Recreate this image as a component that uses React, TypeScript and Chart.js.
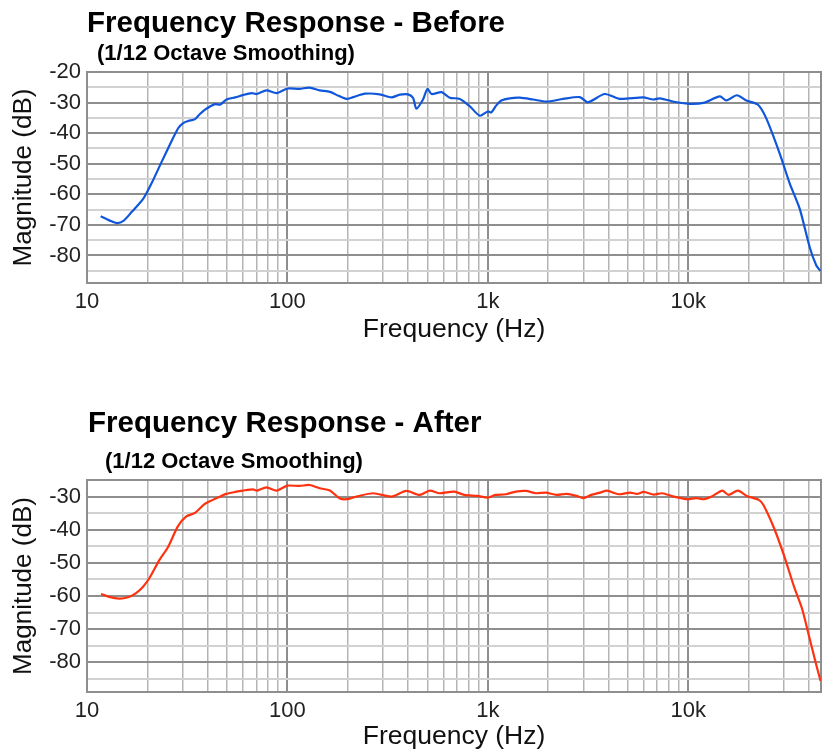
import React, { useEffect, useRef } from 'react';
import { Chart, registerables } from 'chart.js';

Chart.register(...registerables);

const FONT = "'Liberation Sans', Arial, Helvetica, sans-serif";

// ---- data ----
const freqBefore = [11.7, 13, 14.1, 15.2, 16.7, 19.1, 21, 23.6, 25.9, 28.5, 30.2, 32, 34.6, 36.5, 38.8, 43.5, 46, 49.7, 55, 60.3, 66.3, 70.2, 78.7, 88.3, 100, 115, 129, 145, 163, 180, 197, 213, 244, 289, 331, 364, 400, 424, 440, 475, 500, 524, 588, 646, 725, 813, 912, 1000, 1042, 1100, 1169, 1288, 1445, 1683, 1963, 2377, 2877, 3162, 3835, 4560, 5961, 6686, 7217, 8742, 10200, 11900, 14400, 15500, 17500, 19500, 22300, 24500, 28600, 32100, 36000, 40400, 43600, 45600];
const dbBefore = [-67.2, -68.6, -69.4, -68.7, -65.8, -61.4, -56.4, -49.3, -43.8, -38.4, -36.7, -36.0, -35.4, -33.8, -32.3, -30.5, -30.7, -29.0, -28.3, -27.5, -26.9, -27.2, -26.0, -26.9, -25.4, -25.5, -25.1, -26.0, -26.5, -27.8, -28.8, -28.2, -27.1, -27.3, -28.3, -27.4, -27.3, -28.5, -32.0, -29.0, -25.5, -27.2, -26.6, -28.4, -28.8, -31.2, -34.3, -32.9, -33.2, -31.0, -29.3, -28.6, -28.4, -29.0, -29.7, -28.8, -28.2, -29.9, -27.2, -28.8, -28.3, -29.0, -28.6, -29.9, -30.4, -30.1, -28.0, -29.3, -27.6, -29.3, -30.7, -35.1, -46.6, -56.4, -64.7, -77.3, -83.3, -85.0];

const freqAfter = [11.75, 12.9, 14.5, 16, 17.5, 19, 20.5, 23, 25.3, 28.4, 31.3, 34.4, 38.6, 42.5, 45, 49.5, 55, 60, 67.3, 70.5, 78.7, 88.3, 100, 115, 129, 145, 163, 182, 197, 221, 268, 331, 392, 457, 513, 575, 680, 763, 890, 1000, 1090, 1230, 1380, 1550, 1740, 1950, 2200, 2470, 2770, 3000, 3280, 3640, 3936, 4498, 5145, 5560, 6000, 6730, 7410, 8470, 9890, 11000, 12000, 13100, 14800, 15900, 17700, 19600, 22500, 23700, 26800, 30000, 33700, 37100, 40100, 43300, 45800];
const dbAfter = [-59.4, -60.3, -60.8, -60.4, -59.2, -57.3, -54.6, -49.1, -45.4, -39.0, -36.0, -35.0, -32.3, -31.0, -30.3, -29.2, -28.6, -28.2, -27.8, -28.2, -27.2, -28.2, -26.7, -26.8, -26.5, -27.5, -28.2, -30.5, -30.8, -30.0, -29.0, -30.0, -28.3, -29.5, -28.2, -29.0, -28.5, -29.5, -29.8, -30.3, -29.5, -29.3, -28.5, -28.3, -29.0, -28.8, -29.5, -29.2, -29.8, -30.5, -29.5, -28.8, -28.2, -29.3, -28.8, -29.2, -28.6, -29.4, -29.0, -30.0, -30.8, -30.5, -30.8, -30.0, -28.2, -29.5, -28.2, -29.8, -31.0, -32.5, -39.5, -47.6, -57.1, -64.1, -72.2, -80.2, -85.7];

// ---- axis ticks ----
const decades = [10, 100, 1000, 10000];
const xLabelTexts = ['10', '100', '1k', '10k'];
const multipliers = [1, 2, 3, 4, 5, 6, 7, 8, 9];
const xMin = 10;
const xMax = 46000;
const gridFreqs: number[] = [];
decades.forEach((d) => multipliers.forEach((m) => { if (d * m <= 40000) gridFreqs.push(d * m); }));

const yTicksBefore = [-85, -80, -75, -70, -65, -60, -55, -50, -45, -40, -35, -30, -25, -20];
const yTicksAfter = [-85, -80, -75, -70, -65, -60, -55, -50, -45, -40, -35, -30, -25];

const MAJOR = '#8e8e8e';
const MINOR_V = '#b4b4b4';
const MINOR_H = '#d2d2d2';

const framePlugin = {
  id: 'frame',
  beforeDatasetsDraw(chart: any) {
    const { ctx, chartArea: a } = chart;
    ctx.save();
    ctx.strokeStyle = MAJOR;
    ctx.lineWidth = 2;
    ctx.strokeRect(a.left, a.top, a.right - a.left, a.bottom - a.top);
    ctx.restore();
  },
  afterDraw(chart: any, _args: any, opts: any) {
    const { ctx } = chart;
    ctx.save();
    ctx.fillStyle = '#000';
    ctx.textAlign = 'left';
    ctx.textBaseline = 'alphabetic';
    ctx.font = `bold 29.5px ${FONT}`;
    ctx.fillText(opts.title, opts.tx, opts.ty);
    ctx.font = `bold 22px ${FONT}`;
    ctx.fillText(opts.subtitle, opts.sx, opts.sy);
    ctx.restore();
  },
};

type P = {
  freqs: number[]; dbs: number[]; color: string; yTicks: number[];
  yMin: number; yMax: number; padTop: number; axisH: number; xTitlePad: number;
  title: string; subtitle: string; tx: number; ty: number; sx: number; sy: number;
};

function makeConfig(p: P): any {
  return {
    type: 'line',
    data: {
      datasets: [{
        data: p.freqs.map((f, i) => ({ x: f, y: p.dbs[i] })),
        borderColor: p.color,
        borderWidth: 2.2,
        pointRadius: 0,
        tension: 0.25,
        fill: false,
      }],
    },
    options: {
      responsive: false,
      animation: false,
      devicePixelRatio: 1,
      layout: { padding: { top: p.padTop, right: 2, left: 0, bottom: 0 } },
      plugins: {
        legend: { display: false },
        tooltip: { enabled: false },
        title: { display: false },
        frame: { title: p.title, subtitle: p.subtitle, tx: p.tx, ty: p.ty, sx: p.sx, sy: p.sy },
      },
      scales: {
        x: {
          type: 'logarithmic',
          min: xMin,
          max: xMax,
          afterBuildTicks: (s: any) => { s.ticks = gridFreqs.map((v) => ({ value: v })); },
          afterFit: (s: any) => { s.height = p.axisH; },
          border: { display: false },
          grid: {
            drawTicks: false,
            color: (c: any) => (decades.includes(c.tick?.value) ? MAJOR : MINOR_V),
            lineWidth: (c: any) => (decades.includes(c.tick?.value) ? 2 : 1.5),
          },
          ticks: {
            autoSkip: false,
            maxRotation: 0,
            padding: 6,
            color: '#222',
            font: { family: FONT, size: 22 },
            callback: (v: any) => { const i = decades.indexOf(Number(v)); return i >= 0 ? xLabelTexts[i] : ''; },
          },
          title: {
            display: true,
            text: 'Frequency (Hz)',
            color: '#111',
            font: { family: FONT, size: 26.5 },
            padding: { top: 0, bottom: p.xTitlePad },
          },
        },
        y: {
          type: 'linear',
          min: p.yMin,
          max: p.yMax,
          afterBuildTicks: (s: any) => { s.ticks = p.yTicks.map((v) => ({ value: v })); },
          afterFit: (s: any) => { s.width = 87; },
          border: { display: false },
          grid: {
            drawTicks: false,
            color: (c: any) => (c.tick && c.tick.value % 10 === 0 ? MAJOR : MINOR_H),
            lineWidth: 2,
          },
          ticks: {
            autoSkip: false,
            padding: 6,
            color: '#222',
            font: { family: FONT, size: 22 },
            callback: (v: any) => (Number(v) % 10 === 0 ? String(v) : ''),
          },
          title: {
            display: true,
            text: 'Magnitude (dB)',
            color: '#111',
            font: { family: FONT, size: 26 },
            padding: { top: 8, bottom: 0 },
          },
        },
      },
    },
    plugins: [framePlugin],
  };
}

function FreqChart({ p, height, top }: { p: P; height: number; top: number }) {
  const ref = useRef<HTMLCanvasElement | null>(null);
  useEffect(() => {
    if (!ref.current) return;
    const chart = new Chart(ref.current, makeConfig(p));
    return () => chart.destroy();
  }, []);
  return (
    <canvas
      ref={ref}
      width={823}
      height={height}
      style={{ position: 'absolute', left: 0, top, width: 823, height, display: 'block' }}
    />
  );
}

const beforeParams: P = {
  freqs: freqBefore, dbs: dbBefore, color: '#0f56dc', yTicks: yTicksBefore,
  yMin: -89, yMax: -20, padTop: 72, axisH: 93, xTitlePad: 30,
  title: 'Frequency Response - Before', subtitle: '(1/12 Octave Smoothing)',
  tx: 87, ty: 32, sx: 97, sy: 60,
};

const afterParams: P = {
  freqs: freqAfter, dbs: dbAfter, color: '#ff3210', yTicks: yTicksAfter,
  yMin: -89, yMax: -25, padTop: 104, axisH: 61, xTitlePad: 0,
  title: 'Frequency Response - After', subtitle: '(1/12 Octave Smoothing)',
  tx: 88, ty: 56, sx: 105, sy: 92,
};

export default function App() {
  return (
    <div style={{ position: 'absolute', left: 0, top: 0, width: 823, height: 753, background: '#fff', overflow: 'hidden' }}>
      <FreqChart p={beforeParams} height={376} top={0} />
      <FreqChart p={afterParams} height={377} top={376} />
    </div>
  );
}
